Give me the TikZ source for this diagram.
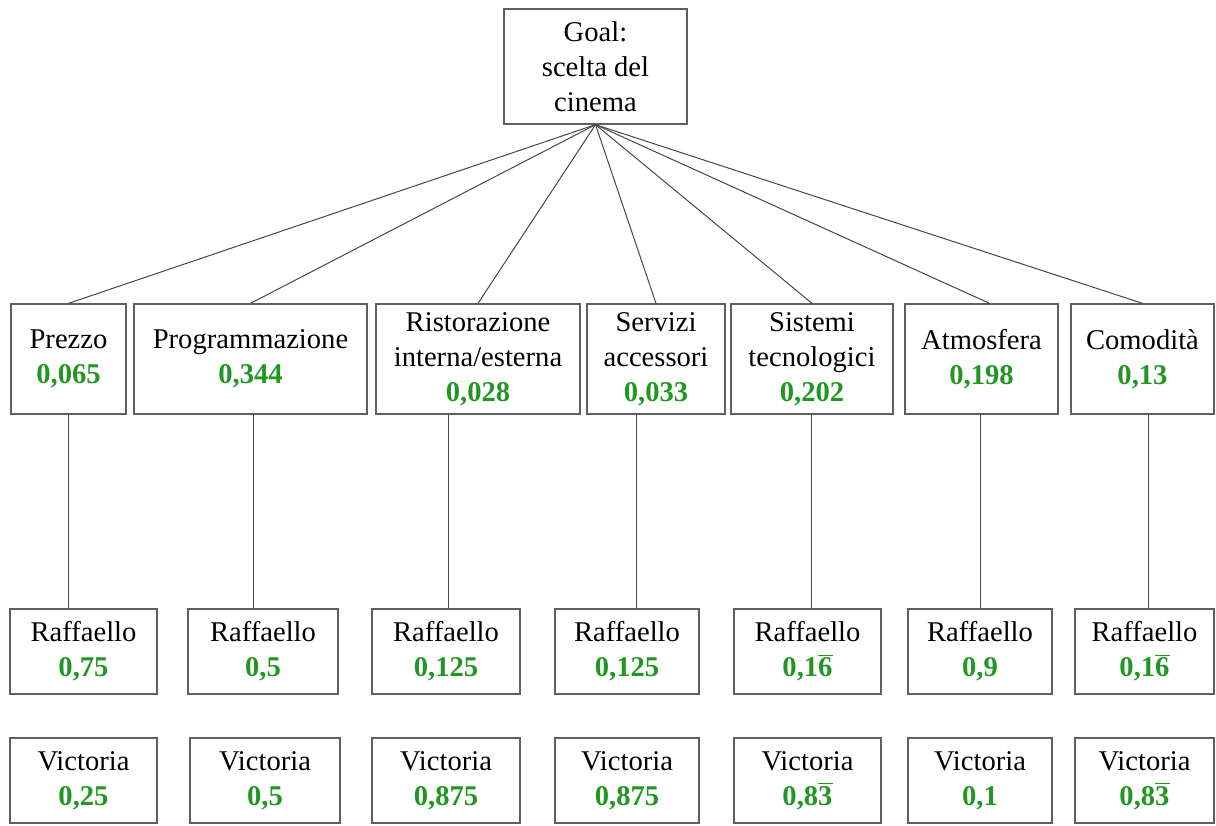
\documentclass[tikz,border=0pt]{standalone}
\usepackage{fontspec}
\setmainfont{Liberation Serif}
\usepackage{xcolor}
\usepackage{tikz}
\definecolor{boxgray}{RGB}{95,95,95}
\definecolor{linkgray}{RGB}{70,70,70}
\definecolor{wgtgreen}{RGB}{34,150,34}
\newcommand{\wgt}[1]{\textcolor{wgtgreen}{\textbf{#1}}}
\newcommand{\rep}[1]{$\overline{\mbox{#1}}$}

\begin{document}
\begin{tikzpicture}[x=0.5pt, y=-0.5pt,
    box/.style={draw=boxgray, line width=0.65pt, align=center, inner sep=0pt,
        font=\fontsize{14.3}{17.5}\selectfont},
    crit/.style={box, minimum height=55pt},
    alt/.style={box, minimum height=42.5pt},
    link/.style={draw=linkgray, line width=0.5pt}]
    \useasboundingbox (0,0) rectangle (1216,825);
    % Goal
    \node[box, minimum width=91.5pt, minimum height=57.5pt] (goal) at (595.5,66.5) {Goal:\\scelta del\\cinema};
    % Criteria
    \node[crit, minimum width=57.5pt] (c1) at (68.5,359) {Prezzo\\\wgt{0,065}};
    \node[crit, minimum width=116.5pt] (c2) at (250.5,359) {Programmazione\\\wgt{0,344}};
    \node[crit, minimum width=102pt] (c3) at (478,359) {Ristorazione\\interna/esterna\\\wgt{0,028}};
    \node[crit, minimum width=69pt] (c4) at (656,359) {Servizi\\accessori\\\wgt{0,033}};
    \node[crit, minimum width=81pt] (c5) at (812,359) {Sistemi\\tecnologici\\\wgt{0,202}};
    \node[crit, minimum width=76.5pt] (c6) at (981.5,359) {Atmosfera\\\wgt{0,198}};
    \node[crit, minimum width=71.5pt] (c7) at (1142.5,359) {Comodità\\\wgt{0,13}};
    % Raffaello
    \node[alt, minimum width=73.5pt] (r1) at (83.5,651.5) {Raffaello\\\wgt{0,75}};
    \node[alt, minimum width=75pt] (r2) at (263,651.5) {Raffaello\\\wgt{0,5}};
    \node[alt, minimum width=74pt] (r3) at (446,651.5) {Raffaello\\\wgt{0,125}};
    \node[alt, minimum width=72pt] (r4) at (627,651.5) {Raffaello\\\wgt{0,125}};
    \node[alt, minimum width=73.5pt] (r5) at (807.5,651.5) {Raffaello\\\wgt{0,1\rep{6}}};
    \node[alt, minimum width=72pt] (r6) at (980,651.5) {Raffaello\\\wgt{0,9}};
    \node[alt, minimum width=69.5pt] (r7) at (1144.5,651.5) {Raffaello\\\wgt{0,1\rep{6}}};
    % Victoria
    \node[alt, minimum width=73.5pt] (v1) at (83.5,780.5) {Victoria\\\wgt{0,25}};
    \node[alt, minimum width=75pt] (v2) at (265,780.5) {Victoria\\\wgt{0,5}};
    \node[alt, minimum width=74pt] (v3) at (446,780.5) {Victoria\\\wgt{0,875}};
    \node[alt, minimum width=72pt] (v4) at (627,780.5) {Victoria\\\wgt{0,875}};
    \node[alt, minimum width=73.5pt] (v5) at (807.5,780.5) {Victoria\\\wgt{0,8\rep{3}}};
    \node[alt, minimum width=72pt] (v6) at (980,780.5) {Victoria\\\wgt{0,1}};
    \node[alt, minimum width=69.5pt] (v7) at (1144.5,780.5) {Victoria\\\wgt{0,8\rep{3}}};
    % Goal to criteria
    \draw[link] (goal.south) -- (c1.north);
    \draw[link] (goal.south) -- (c2.north);
    \draw[link] (goal.south) -- (c3.north);
    \draw[link] (goal.south) -- (c4.north);
    \draw[link] (goal.south) -- (c5.north);
    \draw[link] (goal.south) -- ([xshift=4pt]c6.north);
    \draw[link] (goal.south) -- (c7.north);
    % Criteria to Raffaello
    \draw[link] (c1.south) coordinate (t1) -- (t1 |- r1.north);
    \draw[link] ([xshift=1.25pt]c2.south) coordinate (t2) -- (t2 |- r2.north);
    \draw[link] ([xshift=-15pt]c3.south) coordinate (t3) -- (t3 |- r3.north);
    \draw[link] ([xshift=-10pt]c4.south) coordinate (t4) -- (t4 |- r4.north);
    \draw[link] ([xshift=-0.5pt]c5.south) coordinate (t5) -- (t5 |- r5.north);
    \draw[link] ([xshift=-0.75pt]c6.south) coordinate (t6) -- (t6 |- r6.north);
    \draw[link] ([xshift=2.75pt]c7.south) coordinate (t7) -- (t7 |- r7.north);
\end{tikzpicture}
\end{document}
